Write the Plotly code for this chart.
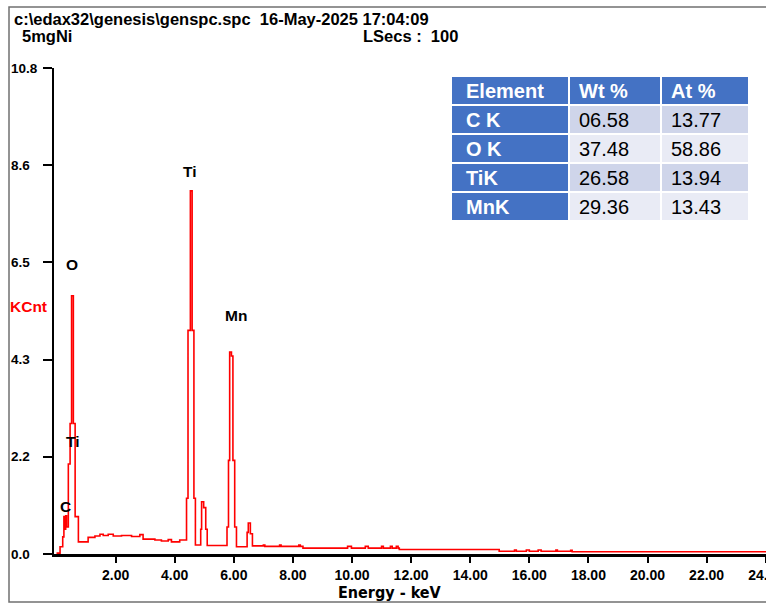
import plotly.graph_objects as go

# ---- EDS spectrum (step plot: each count holds until the next energy) ----
energy_kev = [
    0.00, 0.12, 0.21, 0.25, 0.29, 0.31, 0.34, 0.40, 0.46, 0.51, 0.57, 0.63, 0.74,
    1.07, 1.30, 1.47, 1.58, 1.75, 1.92, 2.20, 2.54, 2.82, 2.93, 3.33, 3.55, 3.78,
    3.89, 4.17, 4.40, 4.45, 4.53, 4.59, 4.65, 4.70, 4.88, 4.91, 4.98, 5.05, 5.10,
    5.77, 5.82, 5.86, 5.92, 5.97, 6.03, 6.09, 6.45, 6.49, 6.56, 6.63,
    7.00, 7.05, 7.55, 7.60, 8.20, 8.25, 8.34, 9.85, 9.98, 10.45, 10.55, 11.00,
    11.06, 11.30, 11.36, 11.50, 11.56, 11.60, 14.98, 15.50, 15.56, 15.90, 16.00,
    16.30, 16.40, 16.90, 16.95, 17.40, 17.45, 24.10,
]
kcnt = [
    0.02, 0.16, 0.38, 0.83, 0.55, 0.85, 0.60, 2.00, 2.90, 5.74, 2.90, 0.83, 0.27,
    0.37, 0.40, 0.44, 0.41, 0.44, 0.40, 0.41, 0.39, 0.43, 0.33, 0.31, 0.29, 0.32,
    0.27, 0.31, 1.24, 4.97, 8.07, 4.97, 1.24, 0.20, 0.55, 1.16, 1.03, 0.55, 0.19,
    0.60, 2.08, 4.49, 4.40, 2.08, 0.60, 0.16, 0.48, 0.69, 0.45, 0.18,
    0.20, 0.17, 0.20, 0.17, 0.20, 0.17, 0.13, 0.17, 0.13, 0.17, 0.13, 0.17,
    0.13, 0.17, 0.13, 0.17, 0.13, 0.10, 0.06, 0.09, 0.06, 0.09, 0.06,
    0.09, 0.06, 0.09, 0.06, 0.08, 0.05, 0.05,
]

# ---- peak labels ----
peak_names = ["O", "Ti", "Mn", "Ti", "C"]
peak_x = [0.51, 4.53, 6.06, 0.57, 0.30]
peak_y = [6.43, 8.51, 5.30, 2.50, 1.06]

# ---- axes ----
x_ticks = [2, 4, 6, 8, 10, 12, 14, 16, 18, 20, 22, 24]
x_tick_text = ["2.00", "4.00", "6.00", "8.00", "10.00", "12.00", "14.00",
               "16.00", "18.00", "20.00", "22.00", "24.00"]
y_ticks = [0.0, 2.16, 4.32, 6.48, 8.64, 10.8]
y_tick_text = ["0.0", "2.2", "4.3", "6.5", "8.6", "10.8"]

# ---- quantification table ----
table_header = ["Element", "Wt %", "At %"]
elements = ["C K", "O K", "TiK", "MnK"]
wt_pct = ["06.58", "37.48", "26.58", "29.36"]
at_pct = ["13.77", "58.86", "13.94", "13.43"]

W, H = 766, 604
ML, MR, MT, MB = 54, 0, 68, 50
PW, PH = W - ML - MR, H - MT - MB


def px(x):
    return (x - ML) / PW


def py(y):
    return (H - MB - y) / PH


SANS = "Liberation Sans, Arial, sans-serif"
NARROW = "DejaVu Sans Condensed, Liberation Sans Narrow, sans-serif"
BLUE = "#4472C4"
ROW_A = "#CFD5EA"
ROW_B = "#E9EBF5"

fig = go.Figure()

fig.add_trace(go.Scatter(
    x=energy_kev, y=kcnt, mode="lines",
    line=dict(color="#FF0000", width=1.6, shape="hv"),
    hoverinfo="skip", showlegend=False,
))

annotations = []
shapes = []

# table grid (pixel layout of cells), text from the table lists
col_left = [452, 570, 662]
col_right = [568, 660, 748]
text_pad = [12, 7, 7]
row_top = [77, 106, 135, 164, 193]
row_h = 27
columns = [elements, wt_pct, at_pct]
for r in range(len(elements) + 1):
    for c in range(3):
        if r == 0 or c == 0:
            fill = BLUE
        else:
            fill = ROW_A if (r - 1) % 2 == 0 else ROW_B
        shapes.append(dict(
            type="rect", xref="paper", yref="paper",
            x0=px(col_left[c]), x1=px(col_right[c]),
            y0=py(row_top[r] + row_h), y1=py(row_top[r]),
            fillcolor=fill, line=dict(width=0), layer="above",
        ))
        if r == 0:
            txt, color, weight = table_header[c], "white", "bold"
        else:
            txt = columns[c][r - 1]
            color = "white" if c == 0 else "black"
            weight = "bold" if c == 0 else "normal"
        annotations.append(dict(
            x=px(col_left[c] + text_pad[c]), y=py(row_top[r] + row_h / 2),
            xref="paper", yref="paper", text=txt, showarrow=False,
            xanchor="left", yanchor="middle",
            font=dict(family=SANS, size=20, color=color, weight=weight),
        ))

# y tick labels, left aligned
for v, t in zip(y_ticks, y_tick_text):
    annotations.append(dict(
        x=px(9), y=v, xref="paper", yref="y", text=t, showarrow=False,
        xanchor="left", yanchor="middle",
        font=dict(family=SANS, size=13.5, color="black", weight="bold"),
    ))
# peak labels
for n, x, y in zip(peak_names, peak_x, peak_y):
    annotations.append(dict(
        x=x, y=y, xref="x", yref="y", text=n, showarrow=False,
        xanchor="center", yanchor="middle",
        font=dict(family=SANS, size=15.5, color="black", weight="bold"),
    ))
# header lines, y caption, x caption
annotations += [
    dict(x=px(12), y=py(19), xref="paper", yref="paper", showarrow=False,
         text="c:\\edax32\\genesis\\genspc.spc  16-May-2025 17:04:09",
         xanchor="left", yanchor="middle",
         font=dict(family=SANS, size=16.5, color="black", weight="bold")),
    dict(x=px(20), y=py(36), xref="paper", yref="paper", showarrow=False,
         text="5mgNi", xanchor="left", yanchor="middle",
         font=dict(family=SANS, size=16.5, color="black", weight="bold")),
    dict(x=px(361), y=py(36), xref="paper", yref="paper", showarrow=False,
         text="LSecs :  100", xanchor="left", yanchor="middle",
         font=dict(family=SANS, size=16.5, color="black", weight="bold")),
    dict(x=px(8), y=py(306), xref="paper", yref="paper", showarrow=False,
         text="KCnt", xanchor="left", yanchor="middle",
         font=dict(family=SANS, size=15.5, color="#FF0000", weight="bold")),
    dict(x=px(390), y=py(592), xref="paper", yref="paper", showarrow=False,
         text="Energy - keV", xanchor="center", yanchor="middle",
         font=dict(family=NARROW, size=16, color="black", weight="bold")),
]

shapes.append(dict(type="rect", xref="paper", yref="paper",
                   x0=px(9), x1=px(790), y0=py(602), y1=py(7),
                   line=dict(color="#707070", width=1.5), layer="below"))

fig.update_layout(
    width=W, height=H,
    margin=dict(l=ML, r=MR, t=MT, b=MB, pad=0, autoexpand=False),
    paper_bgcolor="white", plot_bgcolor="white",
    showlegend=False,
    annotations=annotations,
    shapes=shapes,
    xaxis=dict(
        range=[-0.085, 24.01], showgrid=False, zeroline=False, automargin=False,
        showline=True, linecolor="black", linewidth=2.5,
        ticks="outside", ticklen=6, tickwidth=1.5, tickcolor="black",
        tickvals=x_ticks, ticktext=x_tick_text, ticklabeloverflow="allow",
        tickfont=dict(family=SANS, size=14, color="black", weight="bold"),
    ),
    yaxis=dict(
        range=[0, 10.8], showgrid=False, zeroline=False, automargin=False,
        showline=True, linecolor="black", linewidth=1.5,
        ticks="outside", ticklen=9, tickwidth=1.5, tickcolor="black",
        tickvals=y_ticks, showticklabels=False,
    ),
)

fig.write_html("out.html")
